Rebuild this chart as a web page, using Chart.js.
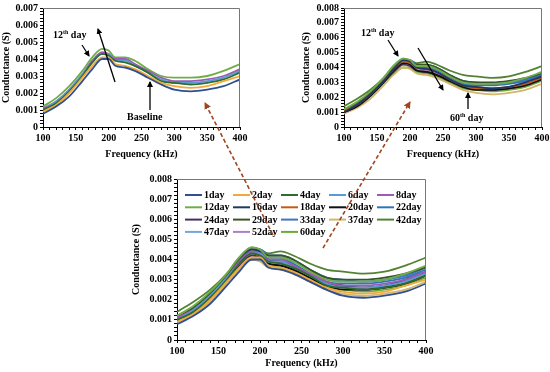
<!DOCTYPE html>
<html>
<head>
<meta charset="utf-8">
<script src="https://cdn.jsdelivr.net/npm/chart.js@4.4.1/dist/chart.umd.min.js"></script>
<style>
  body { margin: 0; background: #fff; }
  #wrap { position: relative; width: 550px; height: 372px; overflow: hidden; background: #fff; }
  canvas { position: absolute; }
  .note { position: absolute; font: bold 10px "Liberation Serif", serif; color: #000; white-space: nowrap; }
  .note sup { font-size: 6px; }
  #arrows { position: absolute; left: 0; top: 0; }
</style>
</head>
<body>
<div id="wrap">
  <canvas id="chartA" width="252" height="163" style="left:0px;top:0px;"></canvas>
  <canvas id="chartB" width="252" height="163" style="left:300px;top:0px;"></canvas>
  <canvas id="chartC" width="308" height="202" style="left:130px;top:170px;"></canvas>

  <div class="note" style="left:53px;top:29px;">12<sup>th</sup> day</div>
  <div class="note" style="left:127px;top:111px;">Baseline</div>
  <div class="note" style="left:361px;top:27px;">12<sup>th</sup> day</div>
  <div class="note" style="left:450px;top:112px;">60<sup>th</sup> day</div>

  <svg id="arrows" width="550" height="372">
    <defs>
      <marker id="headK" markerWidth="6" markerHeight="6" refX="5" refY="3" orient="auto" markerUnits="userSpaceOnUse">
        <path d="M0,0 L6,3 L0,6 z" fill="#000"/>
      </marker>
      <marker id="headR" markerWidth="7" markerHeight="7" refX="6" refY="3.5" orient="auto" markerUnits="userSpaceOnUse">
        <path d="M0,0 L7,3.5 L0,7 z" fill="#a0461e"/>
      </marker>
    </defs>
    <!-- 왼쪽 위 -->
    <line x1="82" y1="45" x2="89" y2="56" stroke="#000" stroke-width="1.2" marker-end="url(#headK)"/>
    <line x1="115" y1="82" x2="98" y2="29" stroke="#000" stroke-width="1.3" marker-end="url(#headK)"/>
    <line x1="150" y1="110" x2="150" y2="82" stroke="#000" stroke-width="1.3" marker-end="url(#headK)"/>
    <!-- 오른쪽 위 -->
    <line x1="388" y1="40" x2="398" y2="56" stroke="#000" stroke-width="1.2" marker-end="url(#headK)"/>
    <line x1="418" y1="48" x2="443" y2="90" stroke="#000" stroke-width="1.3" marker-end="url(#headK)"/>
    <line x1="468" y1="109" x2="468" y2="93" stroke="#000" stroke-width="1.3" marker-end="url(#headK)"/>
    <!-- 점선 화살표 -->
    <line x1="273" y1="235" x2="205" y2="103" stroke="#a0461e" stroke-width="1.6" stroke-dasharray="4,2.5" marker-end="url(#headR)"/>
    <line x1="323" y1="248" x2="410" y2="102" stroke="#a0461e" stroke-width="1.6" stroke-dasharray="4,2.5" marker-end="url(#headR)"/>
  </svg>
</div>

<script>
// ==============================
//  데이터
// ==============================
const freqs = [100, 120, 140, 160, 175, 190, 200, 210, 225, 240, 260, 280, 300, 325, 350, 375, 400];

const dayLabels = ["1day", "2day", "4day", "6day", "8day", "12day", "16day", "18day", "20day",
  "22day", "24day", "29day", "33day", "37day", "42day", "47day", "52day", "60day"];

const day1  = [0.00078, 0.0012, 0.0018, 0.0027, 0.0034, 0.0040, 0.0040, 0.0036, 0.0035, 0.0033, 0.0029, 0.0025, 0.0022, 0.0021, 0.0022, 0.0024, 0.0028];
const day2  = [0.0009, 0.0013, 0.0020, 0.0029, 0.0036, 0.0041, 0.0041, 0.0037, 0.0036, 0.0034, 0.0030, 0.0026, 0.0024, 0.0023, 0.0024, 0.0027, 0.0030];
const day4  = [0.0010, 0.0014, 0.0021, 0.0030, 0.0038, 0.0043, 0.0042, 0.0039, 0.0038, 0.0036, 0.0032, 0.0027, 0.0026, 0.0025, 0.0026, 0.0028, 0.0032];
const day6  = [0.0010, 0.0015, 0.0022, 0.0031, 0.0038, 0.0043, 0.0043, 0.0039, 0.0039, 0.0036, 0.0032, 0.0028, 0.0026, 0.0026, 0.0027, 0.0029, 0.0033];
const day8  = [0.0011, 0.0015, 0.0022, 0.0031, 0.0039, 0.0044, 0.0043, 0.0040, 0.0040, 0.0037, 0.0033, 0.0029, 0.0027, 0.0027, 0.0028, 0.0030, 0.0034];
const day12 = [0.0012, 0.0017, 0.0024, 0.0033, 0.0041, 0.0046, 0.0045, 0.0041, 0.0041, 0.0039, 0.0034, 0.0030, 0.0029, 0.0029, 0.0030, 0.0033, 0.0037];
const day16 = [0.0010, 0.0015, 0.0022, 0.0031, 0.0039, 0.0045, 0.0044, 0.0040, 0.0039, 0.0037, 0.0032, 0.0028, 0.0027, 0.0026, 0.0027, 0.0030, 0.0034];
const day18 = [0.0011, 0.0015, 0.0022, 0.0031, 0.0039, 0.0044, 0.0043, 0.0040, 0.0039, 0.0037, 0.0032, 0.0028, 0.0026, 0.0026, 0.0027, 0.0029, 0.0033];
const day20 = [0.0010, 0.0014, 0.0021, 0.0030, 0.0038, 0.0043, 0.0042, 0.0038, 0.0037, 0.0035, 0.0031, 0.0027, 0.0025, 0.0025, 0.0026, 0.0028, 0.0032];
const day22 = [0.0011, 0.0015, 0.0022, 0.0031, 0.0039, 0.0044, 0.0043, 0.0040, 0.0040, 0.0038, 0.0033, 0.0029, 0.0028, 0.0028, 0.0029, 0.0031, 0.0035];
const day24 = [0.0010, 0.0014, 0.0021, 0.0030, 0.0037, 0.0042, 0.0041, 0.0038, 0.0037, 0.0035, 0.0031, 0.0027, 0.0026, 0.0025, 0.0026, 0.0028, 0.0032];
const day29 = [0.0011, 0.0016, 0.0023, 0.0032, 0.0040, 0.0045, 0.0044, 0.0042, 0.0042, 0.0040, 0.0035, 0.0031, 0.0030, 0.0030, 0.0031, 0.0033, 0.0036];
const day33 = [0.0012, 0.0016, 0.0023, 0.0032, 0.0040, 0.0045, 0.0045, 0.0042, 0.0042, 0.0040, 0.0035, 0.0031, 0.0030, 0.0029, 0.0030, 0.0032, 0.0036];
const day37 = [0.0009, 0.0013, 0.0019, 0.0028, 0.0035, 0.0040, 0.0039, 0.0036, 0.0035, 0.0033, 0.0029, 0.0025, 0.0023, 0.0022, 0.0023, 0.0025, 0.0029];
const day42 = [0.0014, 0.0019, 0.0025, 0.0033, 0.0041, 0.0046, 0.0045, 0.0043, 0.0044, 0.0042, 0.0038, 0.0035, 0.0034, 0.0033, 0.0034, 0.0037, 0.0041];
const day47 = [0.0012, 0.0016, 0.0023, 0.0032, 0.0040, 0.0045, 0.0044, 0.0042, 0.0041, 0.0039, 0.0035, 0.0031, 0.0029, 0.0029, 0.0030, 0.0032, 0.0036];
const day52 = [0.0011, 0.0015, 0.0022, 0.0031, 0.0038, 0.0043, 0.0042, 0.0039, 0.0038, 0.0036, 0.0032, 0.0028, 0.0027, 0.0026, 0.0027, 0.0029, 0.0033];
const day60 = [0.0010, 0.0014, 0.0021, 0.0030, 0.0036, 0.0040, 0.0040, 0.0037, 0.0036, 0.0034, 0.0030, 0.0026, 0.0025, 0.0024, 0.0025, 0.0027, 0.0031];

const dayValues = [day1, day2, day4, day6, day8, day12, day16, day18, day20,
  day22, day24, day29, day33, day37, day42, day47, day52, day60];

const dayColors = ["#2f4f8f", "#f2a93b", "#2e6b2e", "#5b9bd5", "#9c5bb5", "#70ad47", "#1f3864", "#c55a11", "#111111",
  "#2e75b6", "#4b2c5e", "#375623", "#4472c4", "#d6b46a", "#548235", "#6fa8dc", "#b07cc6", "#6aaa3a"];

// 위 두 그래프에 들어가는 날짜
const earlyDays = ["1day", "2day", "4day", "6day", "8day", "12day"];
const lateDays = ["12day", "16day", "18day", "20day", "22day", "24day", "29day", "33day", "37day", "42day", "47day", "52day", "60day"];

const xTicks = [100, 150, 200, 250, 300, 350, 400];

// ==============================
//  공통 설정
// ==============================
const FONT = "'Liberation Serif', 'Times New Roman', serif";

const boxPlugin = {
  id: "box",
  afterDraw(chart) {
    const a = chart.chartArea;
    const ctx = chart.ctx;
    ctx.save();
    ctx.strokeStyle = "#777";
    ctx.lineWidth = 1;
    ctx.beginPath();
    ctx.moveTo(a.left, a.top + 0.5);
    ctx.lineTo(a.right - 0.5, a.top + 0.5);
    ctx.lineTo(a.right - 0.5, a.bottom);
    ctx.stroke();
    ctx.restore();
  }
};

// 아래 그래프 범례 (5열 격자)
const gridLegend = {
  id: "gridLegend",
  afterDraw(chart) {
    const a = chart.chartArea;
    const ctx = chart.ctx;
    ctx.save();
    ctx.font = "bold 10px " + FONT;
    ctx.textBaseline = "middle";
    chart.data.datasets.forEach((ds, i) => {
      const col = i % 5, row = Math.floor(i / 5);
      const x = a.left + 8 + col * 48;
      const y = a.top + 16 + row * 12.3;
      ctx.strokeStyle = ds.borderColor;
      ctx.lineWidth = 2;
      ctx.beginPath();
      ctx.moveTo(x, y);
      ctx.lineTo(x + 17, y);
      ctx.stroke();
      ctx.fillStyle = "#000";
      ctx.fillText(ds.label, x + 19, y + 0.5);
    });
    ctx.restore();
  }
};

const makeDatasets = (names) => names.map(name => {
  const i = dayLabels.indexOf(name);
  return {
    label: name,
    data: freqs.map((f, k) => ({ x: f, y: dayValues[i][k] })),
    borderColor: dayColors[i],
    backgroundColor: dayColors[i],
    borderWidth: 1.8,
    pointRadius: 0,
    cubicInterpolationMode: "monotone",
    fill: false
  };
});

const makeChart = (id, names, yMax, yWidth, pad, withLegend) => {
  new Chart(document.getElementById(id), {
    type: "line",
    data: { datasets: makeDatasets(names) },
    options: {
      responsive: false,
      animation: false,
      devicePixelRatio: 1,
      layout: { padding: pad },
      plugins: { legend: { display: false }, tooltip: { enabled: false } },
      scales: {
        x: {
          type: "linear",
          min: 100,
          max: 400,
          afterFit: (s) => { s.height = pad.xHeight; },
          afterBuildTicks: (s) => {
            s.ticks = [];
            for (let v = 100; v <= 400; v += 10) s.ticks.push({ value: v });
          },
          ticks: {
            autoSkip: false,
            maxRotation: 0,
            padding: 2,
            color: "#000",
            font: { family: FONT, size: 10, weight: "bold" },
            callback: (v) => xTicks.includes(v) ? String(v) : ""
          },
          grid: { drawOnChartArea: false, tickLength: 3, color: "#000" },
          border: { color: "#000", width: 1 },
          title: {
            display: true,
            text: "Frequency (kHz)",
            color: "#000",
            padding: { top: 2, bottom: 3 },
            font: { family: FONT, size: 10, weight: "bold" }
          }
        },
        y: {
          min: 0,
          max: yMax,
          afterFit: (s) => { s.width = yWidth; },
          afterBuildTicks: (s) => {
            s.ticks = [];
            for (let k = 0; k <= Math.round(yMax * 5000); k++) s.ticks.push({ value: k / 5000 });
          },
          ticks: {
            autoSkip: false,
            padding: 2,
            color: "#000",
            font: { family: FONT, size: 10, weight: "bold" },
            callback: (v) => {
              const m = Math.round(v * 5000);
              if (m % 5 !== 0) return "";
              return m === 0 ? "0" : (m / 5000).toFixed(3);
            }
          },
          grid: { drawOnChartArea: false, tickLength: 3, color: "#000" },
          border: { color: "#000", width: 1 },
          title: {
            display: true,
            text: "Conductance (S)",
            color: "#000",
            padding: { top: 0, bottom: 2 },
            font: { family: FONT, size: 10, weight: "bold" }
          }
        }
      }
    },
    plugins: withLegend ? [boxPlugin, gridLegend] : [boxPlugin]
  });
};

makeChart("chartA", earlyDays, 0.007, 43, { top: 6, right: 12, left: 0, bottom: 0, xHeight: 36 }, false);
makeChart("chartB", lateDays, 0.008, 44, { top: 6, right: 10, left: 0, bottom: 0, xHeight: 36 }, false);
makeChart("chartC", dayLabels, 0.008, 47, { top: 9, right: 12, left: 0, bottom: 0, xHeight: 32 }, true);
</script>
</body>
</html>
